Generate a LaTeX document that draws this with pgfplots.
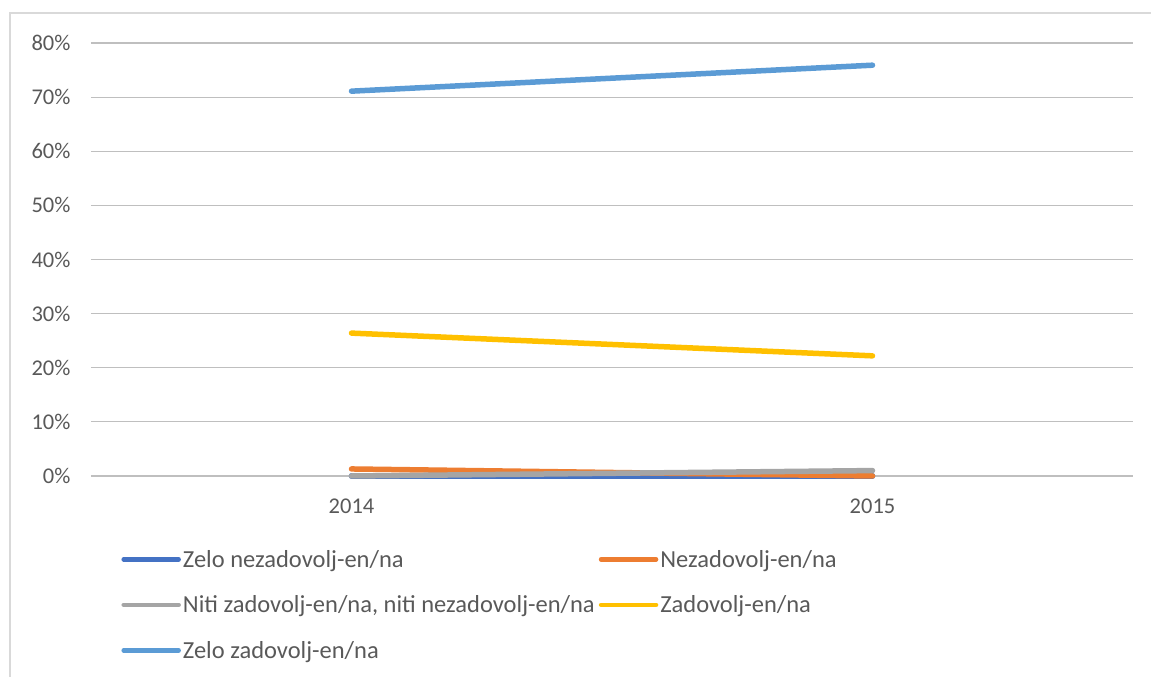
\documentclass[border=0pt]{standalone}
\usepackage{pgfplots}
\pgfplotsset{compat=1.18}
\usepackage{fontspec}
\setmainfont{Carlito}
\definecolor{cA}{HTML}{4472C4}
\definecolor{cB}{HTML}{ED7D31}
\definecolor{cC}{HTML}{A5A5A5}
\definecolor{cD}{HTML}{FFC000}
\definecolor{cE}{HTML}{5B9BD5}
\definecolor{grid}{HTML}{D9D9D9}
\definecolor{txt}{HTML}{595959}
\begin{document}
\begin{tikzpicture}[x=1pt,y=1pt]
\useasboundingbox (0,0) rectangle (1151,677);
\draw[grid, line width=1.2pt] (10,0) -- (10,664) -- (1151,664);
\begin{axis}[
  at={(91pt,201pt)}, anchor=south west,
  scale only axis, width=1042pt, height=433pt,
  xmin=-0.5, xmax=1.5, ymin=0, ymax=80,
  xtick={0,1}, xticklabels={2014,2015},
  ytick={0,10,...,80},
  yticklabels={0\%,10\%,20\%,30\%,40\%,50\%,60\%,70\%,80\%},
  xmajorgrids=false, ymajorgrids=true, grid style={grid, line width=1.2pt},
  axis line style={draw=none},
  major tick length=0pt,
  tick label style={font=\fontsize{22.5}{27}\selectfont, text=txt},
  yticklabel style={xshift=-17pt},
  xticklabel style={yshift=-19pt},
  clip=false,
  legend columns=2,
  legend cell align=left,
  legend style={draw=none, fill=none, at={(0.029,-0.166)}, anchor=north west,
    font=\fontsize{24.5}{29}\selectfont, text=txt,
    row sep=23pt,
    /tikz/every even column/.append style={column sep=2pt},
    inner sep=0pt},
  legend image code/.code={\draw[#1, line width=4.5pt, line cap=round] (0pt,0pt) -- (55pt,0pt);},
  every axis plot/.append style={line width=5.5pt, line cap=round},
]
\addplot[cA] coordinates {(0,0) (1,0)};
\addlegendentry{Zelo nezadovolj-en/na}
\addplot[cB] coordinates {(0,1.3) (1,0)};
\addlegendentry{Nezadovolj-en/na}
\addplot[cC] coordinates {(0,0) (1,1.0)};
\addlegendentry{Niti zadovolj-en/na, niti nezadovolj-en/na}
\addplot[cD] coordinates {(0,26.4) (1,22.2)};
\addlegendentry{Zadovolj-en/na}
\addplot[cE] coordinates {(0,71.1) (1,75.9)};
\addlegendentry{Zelo zadovolj-en/na}
\end{axis}
\end{tikzpicture}
\end{document}
